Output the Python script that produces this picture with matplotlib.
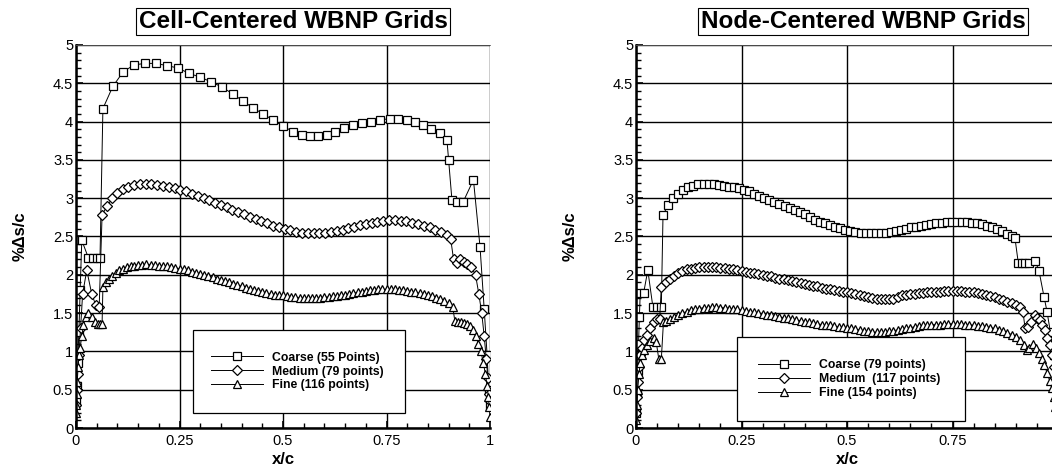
'''
Two-panel %Ds/c distribution for cell- and node-centered WBNP grids.
Output: out.png
'''

import matplotlib
matplotlib.use('Agg')
import matplotlib.pyplot as plt
from matplotlib.lines import Line2D
from matplotlib.patches import Rectangle
from matplotlib.ticker import MultipleLocator, FixedLocator, FixedFormatter

plt.rcParams['font.family'] = ['Liberation Sans', 'DejaVu Sans']

#Cell-centered grids (left panel)
cc_coarse_x = [0.0, 0.002, 0.004, 0.007, 0.01, 0.014, 0.03, 0.04, 0.05, 0.058,
               0.065, 0.089, 0.114, 0.14, 0.167, 0.193, 0.22, 0.246, 0.273, 0.3,
               0.326, 0.353, 0.379, 0.403, 0.427, 0.452, 0.476, 0.5, 0.524, 0.546,
               0.565, 0.585, 0.606, 0.626, 0.648, 0.67, 0.69, 0.712, 0.734, 0.758,
               0.778, 0.8, 0.818, 0.838, 0.857, 0.879, 0.896, 0.9, 0.908, 0.92,
               0.935, 0.96, 0.976, 0.986, 0.993, 0.997, 1.0]
cc_coarse_y = [0.35, 0.55, 0.85, 1.25, 1.8, 2.45, 2.22, 2.22, 2.22, 2.22,
               4.17, 4.46, 4.65, 4.74, 4.76, 4.76, 4.73, 4.70, 4.63, 4.58,
               4.52, 4.45, 4.36, 4.27, 4.18, 4.10, 4.02, 3.94, 3.87, 3.83,
               3.81, 3.81, 3.83, 3.87, 3.91, 3.95, 3.98, 4.00, 4.02, 4.04,
               4.04, 4.02, 3.99, 3.95, 3.90, 3.85, 3.76, 3.5, 2.98, 2.95,
               2.95, 3.24, 2.36, 1.55, 0.95, 0.5, 0.3]

cc_medium_x = [0.0, 0.002, 0.004, 0.007, 0.011, 0.016, 0.026, 0.038, 0.048, 0.056,
               0.063, 0.075, 0.088, 0.1, 0.113, 0.126, 0.14, 0.154, 0.168, 0.182,
               0.196, 0.21, 0.224, 0.238, 0.252, 0.266, 0.28, 0.294, 0.308, 0.322,
               0.336, 0.35, 0.364, 0.378, 0.392, 0.406, 0.42, 0.434, 0.448, 0.462,
               0.476, 0.49, 0.504, 0.518, 0.532, 0.546, 0.56, 0.574, 0.588, 0.602,
               0.616, 0.63, 0.644, 0.658, 0.672, 0.686, 0.7, 0.714, 0.728, 0.742,
               0.756, 0.77, 0.784, 0.798, 0.812, 0.826, 0.84, 0.854, 0.868, 0.882,
               0.895, 0.905, 0.912, 0.92, 0.928, 0.936, 0.945, 0.955, 0.965, 0.973,
               0.98, 0.986, 0.991, 0.995, 0.998, 1.0]
cc_medium_y = [0.3, 0.5, 0.7, 0.95, 1.3, 1.75, 2.06, 1.75, 1.6, 1.58,
               2.78, 2.90, 3.00, 3.07, 3.12, 3.15, 3.17, 3.18, 3.19, 3.18,
               3.17, 3.16, 3.15, 3.13, 3.11, 3.09, 3.06, 3.03, 3.00, 2.97,
               2.94, 2.91, 2.88, 2.85, 2.82, 2.79, 2.76, 2.73, 2.70, 2.67,
               2.64, 2.62, 2.60, 2.58, 2.56, 2.55, 2.54, 2.54, 2.54, 2.55,
               2.56, 2.57, 2.59, 2.61, 2.63, 2.65, 2.66, 2.68, 2.69, 2.70,
               2.71, 2.71, 2.70, 2.70, 2.68, 2.66, 2.64, 2.62, 2.59, 2.56,
               2.52, 2.47, 2.20, 2.15, 2.20, 2.17, 2.14, 2.10, 2.00, 1.75,
               1.50, 1.20, 0.90, 0.65, 0.45, 0.35]

cc_fine_x = [0.0, 0.001, 0.002, 0.003, 0.005, 0.007, 0.01, 0.014, 0.018, 0.024,
             0.03, 0.038, 0.046, 0.052, 0.058, 0.063,
             0.065, 0.072, 0.08, 0.088, 0.096, 0.105, 0.114, 0.123, 0.132, 0.141,
             0.15, 0.16, 0.17, 0.18, 0.19, 0.2, 0.21, 0.22, 0.23, 0.24,
             0.25, 0.26, 0.27, 0.28, 0.29, 0.3, 0.31, 0.32, 0.33, 0.34,
             0.35, 0.36, 0.37, 0.38, 0.39, 0.4, 0.41, 0.42, 0.43, 0.44,
             0.45, 0.46, 0.47, 0.48, 0.49, 0.5, 0.51, 0.52, 0.53, 0.54,
             0.55, 0.56, 0.57, 0.58, 0.59, 0.6, 0.61, 0.62, 0.63, 0.64,
             0.65, 0.66, 0.67, 0.68, 0.69, 0.7, 0.71, 0.72, 0.73, 0.74,
             0.75, 0.76, 0.77, 0.78, 0.79, 0.8, 0.81, 0.82, 0.83, 0.84,
             0.85, 0.86, 0.87, 0.88, 0.89, 0.9, 0.91,
             0.915, 0.922, 0.93, 0.937, 0.945, 0.952, 0.958, 0.965, 0.972, 0.978,
             0.984, 0.989, 0.993, 0.996, 0.998, 1.0]
cc_fine_y = [0.2, 0.3, 0.45, 0.6, 0.8, 0.95, 1.05, 1.2, 1.35, 1.45,
             1.5, 1.45, 1.38, 1.36, 1.36, 1.36,
             1.84, 1.90, 1.95, 1.99, 2.03, 2.06, 2.08, 2.10, 2.11, 2.12,
             2.13, 2.13, 2.14, 2.13, 2.13, 2.12, 2.12, 2.11, 2.10, 2.09,
             2.08, 2.07, 2.06, 2.04, 2.03, 2.01, 2.00, 1.98, 1.97, 1.95,
             1.93, 1.92, 1.90, 1.88, 1.87, 1.85, 1.83, 1.82, 1.80, 1.79,
             1.78, 1.76, 1.75, 1.74, 1.73, 1.73, 1.72, 1.71, 1.71, 1.70,
             1.70, 1.70, 1.70, 1.70, 1.70, 1.71, 1.71, 1.72, 1.72, 1.73,
             1.74, 1.75, 1.76, 1.77, 1.78, 1.79, 1.80, 1.80, 1.81, 1.81,
             1.81, 1.81, 1.81, 1.80, 1.80, 1.79, 1.78, 1.77, 1.76, 1.75,
             1.73, 1.72, 1.70, 1.68, 1.66, 1.63, 1.58,
             1.40, 1.38, 1.38, 1.37, 1.36, 1.33, 1.28, 1.20, 1.10, 1.00,
             0.85, 0.70, 0.55, 0.40, 0.28, 0.15]

#Node-centered grids (right panel)
nc_coarse_x = [0.0, 0.002, 0.004, 0.006, 0.008, 0.01, 0.018, 0.028, 0.04, 0.05, 0.06,
               0.064, 0.076, 0.088, 0.1, 0.112, 0.124, 0.136, 0.148, 0.16, 0.172,
               0.184, 0.196, 0.208, 0.22, 0.232, 0.244, 0.256, 0.268, 0.28, 0.292,
               0.304, 0.316, 0.328, 0.34, 0.352, 0.364, 0.376, 0.388, 0.4, 0.412,
               0.424, 0.436, 0.448, 0.46, 0.472, 0.484, 0.496, 0.508, 0.52, 0.532,
               0.544, 0.556, 0.568, 0.58, 0.592, 0.604, 0.616, 0.628, 0.64, 0.652,
               0.664, 0.676, 0.688, 0.7, 0.712, 0.724, 0.736, 0.748, 0.76, 0.772,
               0.784, 0.796, 0.808, 0.82, 0.832, 0.844, 0.856, 0.868, 0.88, 0.89,
               0.898, 0.906, 0.914, 0.922, 0.932, 0.946, 0.955, 0.967, 0.974, 0.982,
               0.99, 0.996, 1.0]
nc_coarse_y = [0.2, 0.45, 0.75, 1.1, 1.45, 1.76, 1.76, 2.06, 1.58, 1.58, 1.58,
               2.78, 2.91, 3.00, 3.06, 3.11, 3.14, 3.16, 3.18, 3.18, 3.18,
               3.18, 3.17, 3.16, 3.15, 3.14, 3.13, 3.11, 3.09, 3.06, 3.03,
               3.00, 2.98, 2.95, 2.92, 2.90, 2.87, 2.84, 2.82, 2.79, 2.76,
               2.72, 2.69, 2.67, 2.65, 2.63, 2.61, 2.59, 2.57, 2.56, 2.55,
               2.54, 2.54, 2.54, 2.54, 2.55, 2.56, 2.57, 2.59, 2.60, 2.62,
               2.63, 2.64, 2.65, 2.66, 2.67, 2.68, 2.69, 2.69, 2.69, 2.69,
               2.69, 2.68, 2.67, 2.66, 2.64, 2.62, 2.60, 2.57, 2.53, 2.50,
               2.48, 2.15, 2.15, 2.15, 2.15, 2.18, 2.05, 1.71, 1.52, 1.25,
               0.95, 0.6, 0.3]

nc_medium_x = [0.0, 0.002, 0.004, 0.007, 0.01, 0.015, 0.02, 0.027, 0.034, 0.042,
               0.05, 0.056, 0.06,
               0.07, 0.08, 0.09, 0.1, 0.11, 0.12, 0.13, 0.14, 0.15, 0.16,
               0.17, 0.18, 0.19, 0.2, 0.21, 0.22, 0.23, 0.24, 0.25, 0.26,
               0.27, 0.28, 0.29, 0.3, 0.31, 0.32, 0.33, 0.34, 0.35, 0.36,
               0.37, 0.38, 0.39, 0.4, 0.41, 0.42, 0.43, 0.44, 0.45, 0.46,
               0.47, 0.48, 0.49, 0.5, 0.51, 0.52, 0.53, 0.54, 0.55, 0.56,
               0.57, 0.58, 0.59, 0.6, 0.61, 0.62, 0.63, 0.64, 0.65, 0.66,
               0.67, 0.68, 0.69, 0.7, 0.71, 0.72, 0.73, 0.74, 0.75, 0.76,
               0.77, 0.78, 0.79, 0.8, 0.81, 0.82, 0.83, 0.84, 0.85, 0.86,
               0.87, 0.88, 0.89, 0.9, 0.91, 0.917,
               0.922, 0.93, 0.937, 0.945, 0.951, 0.957, 0.963, 0.969, 0.975, 0.98,
               0.985, 0.99, 0.994, 0.997, 1.0]
nc_medium_y = [0.2, 0.4, 0.6, 0.8, 0.95, 1.05, 1.15, 1.22, 1.3, 1.38,
               1.42, 1.42, 1.84,
               1.90, 1.95, 1.99, 2.02, 2.05, 2.07, 2.08, 2.09, 2.10, 2.10,
               2.10, 2.10, 2.10, 2.09, 2.09, 2.08, 2.07, 2.06, 2.05, 2.04,
               2.03, 2.02, 2.01, 2.00, 1.99, 1.98, 1.96, 1.95, 1.94, 1.93,
               1.92, 1.90, 1.89, 1.88, 1.87, 1.86, 1.85, 1.83, 1.82, 1.81,
               1.80, 1.79, 1.78, 1.77, 1.76, 1.75, 1.73, 1.72, 1.71, 1.70,
               1.69, 1.68, 1.68, 1.68, 1.69, 1.71, 1.73, 1.74, 1.75, 1.75,
               1.76, 1.76, 1.77, 1.77, 1.78, 1.78, 1.79, 1.79, 1.79, 1.79,
               1.79, 1.78, 1.78, 1.77, 1.76, 1.75, 1.74, 1.72, 1.71, 1.69,
               1.67, 1.65, 1.63, 1.61, 1.58, 1.52,
               1.30, 1.32, 1.38, 1.47, 1.44, 1.41, 1.35, 1.28, 1.18, 1.08,
               0.95, 0.80, 0.60, 0.40, 0.20]

nc_fine_x = [0.0, 0.002, 0.004, 0.007, 0.01, 0.015, 0.02, 0.027, 0.034, 0.042,
             0.048, 0.054, 0.06, 0.065,
             0.07, 0.08, 0.09, 0.1, 0.11, 0.12, 0.13, 0.14, 0.15, 0.16,
             0.17, 0.18, 0.19, 0.2, 0.21, 0.22, 0.23, 0.24, 0.25, 0.26,
             0.27, 0.28, 0.29, 0.3, 0.31, 0.32, 0.33, 0.34, 0.35, 0.36,
             0.37, 0.38, 0.39, 0.4, 0.41, 0.42, 0.43, 0.44, 0.45, 0.46,
             0.47, 0.48, 0.49, 0.5, 0.51, 0.52, 0.53, 0.54, 0.55, 0.56,
             0.57, 0.58, 0.59, 0.6, 0.61, 0.62, 0.63, 0.64, 0.65, 0.66,
             0.67, 0.68, 0.69, 0.7, 0.71, 0.72, 0.73, 0.74, 0.75, 0.76,
             0.77, 0.78, 0.79, 0.8, 0.81, 0.82, 0.83, 0.84, 0.85, 0.86,
             0.87, 0.88, 0.89, 0.9, 0.91, 0.92,
             0.926, 0.932, 0.94, 0.948, 0.955, 0.962, 0.968, 0.974, 0.98, 0.985,
             0.99, 0.994, 0.997, 1.0]
nc_fine_y = [0.1, 0.3, 0.5, 0.7, 0.85, 0.95, 1.02, 1.08, 1.14, 1.18,
             1.12, 0.90, 0.90, 1.38,
             1.40, 1.42, 1.45, 1.48, 1.50, 1.52, 1.54, 1.55, 1.56, 1.57,
             1.57, 1.58, 1.58, 1.57, 1.57, 1.56, 1.56, 1.55, 1.54, 1.53,
             1.52, 1.51, 1.50, 1.49, 1.48, 1.47, 1.46, 1.45, 1.44, 1.43,
             1.42, 1.41, 1.40, 1.39, 1.38, 1.37, 1.36, 1.35, 1.34, 1.34,
             1.33, 1.32, 1.32, 1.31, 1.30, 1.29, 1.28, 1.27, 1.26, 1.25,
             1.25, 1.25, 1.25, 1.26, 1.27, 1.28, 1.29, 1.30, 1.31, 1.32,
             1.33, 1.34, 1.34, 1.35, 1.35, 1.35, 1.36, 1.36, 1.36, 1.36,
             1.36, 1.35, 1.35, 1.34, 1.33, 1.33, 1.32, 1.31, 1.30, 1.28,
             1.26, 1.24, 1.22, 1.19, 1.15, 1.08,
             1.02, 1.05, 1.10, 1.05, 0.98, 0.90, 0.82, 0.72, 0.62, 0.52,
             0.40, 0.28, 0.18, 0.08]

cc_labels = ['Coarse (55 Points)', 'Medium (79 points)', 'Fine (116 points)']
nc_labels = ['Coarse (79 points)', 'Medium  (117 points)', 'Fine (154 points)']
x_ticks = [0, 0.25, 0.5, 0.75, 1]
y_ticks = [0, 0.5, 1, 1.5, 2, 2.5, 3, 3.5, 4, 4.5, 5]
y_ticklabels = ['0', '0.5', '1', '1.5', '2', '2.5', '3', '3.5', '4', '4.5', '5']

W, H = 1052, 471
fig = plt.figure(figsize=(W / 100, H / 100), dpi=100)

ax1 = fig.add_axes([76 / W, 43 / H, 414 / W, 383 / H])
ax2 = fig.add_axes([636 / W, 43 / H, 422 / W, 383 / H])

styles = [dict(marker='s', ms=6.0), dict(marker='D', ms=5.0), dict(marker='^', ms=5.6)]


def draw_panel(ax, series, labels, legbox, xlabels):
    for (x, y), st in zip(series, styles):
        ax.plot(x, y, color='black', lw=0.7, mfc='white', mec='black', mew=0.9, **st)
    ax.set_xlim(0, 1)
    ax.set_ylim(0, 5)
    ax.xaxis.set_major_locator(FixedLocator(x_ticks))
    ax.xaxis.set_major_formatter(FixedFormatter(xlabels))
    ax.xaxis.set_minor_locator(MultipleLocator(0.05))
    ax.yaxis.set_major_locator(FixedLocator(y_ticks))
    ax.yaxis.set_major_formatter(FixedFormatter(y_ticklabels))
    ax.yaxis.set_minor_locator(MultipleLocator(0.1))
    ax.tick_params(which='both', direction='in', labelsize=10.5, color='black')
    ax.tick_params(which='major', length=5, width=1.2)
    ax.tick_params(which='minor', length=3.5, width=1.0)
    ax.tick_params(axis='y', pad=2)
    ax.tick_params(axis='x', pad=4)
    ax.grid(which='major', color='black', lw=1.0)
    for s in ['left', 'bottom']:
        ax.spines[s].set_linewidth(1.8)
    ax.spines['top'].set_linewidth(0.6)
    ax.spines['top'].set_color('0.35')
    ax.spines['right'].set_visible(False)
    ax.set_axisbelow(True)

    # legend box
    x0, y0, x1, y1 = legbox
    ax.add_patch(Rectangle((x0, y0), x1 - x0, y1 - y0, transform=ax.transAxes,
                           fc='white', ec='black', lw=0.9, zorder=4))
    handles = [Line2D([], [], color='black', lw=0.7, mfc='white', mec='black', mew=0.9, **st)
               for st in styles]
    ax.legend(handles, labels, loc='center', bbox_to_anchor=((x0 + x1) / 2 - 0.005, (y0 + y1) / 2),
              frameon=False, handlelength=4.3, handletextpad=0.7, labelspacing=0.15,
              prop=dict(weight='bold', size=8.8)).set_zorder(5)


draw_panel(ax1, [(cc_coarse_x, cc_coarse_y), (cc_medium_x, cc_medium_y), (cc_fine_x, cc_fine_y)],
           cc_labels, (0.283, 0.039, 0.795, 0.256), ['0', '0.25', '0.5', '0.75', '1'])
# the right panel's x=1 label falls outside the picture in the reference
draw_panel(ax2, [(nc_coarse_x, nc_coarse_y), (nc_medium_x, nc_medium_y), (nc_fine_x, nc_fine_y)],
           nc_labels, (0.239, 0.018, 0.780, 0.238), ['0', '0.25', '0.5', '0.75', ''])

box = dict(boxstyle='square,pad=0.1', fc='white', ec='black', lw=0.8)
fig.text(293 / W, 1 - 21.5 / H, 'Cell-Centered WBNP Grids', ha='center', va='center',
         fontsize=17.5, weight='bold', bbox=box)
fig.text(863 / W, 1 - 21.5 / H, 'Node-Centered WBNP Grids', ha='center', va='center',
         fontsize=17.5, weight='bold', bbox=box)

for xc in [283, 847]:
    fig.text(xc / W, 1 - 460 / H, 'x/c', ha='center', va='center', fontsize=12, weight='bold')
for xc in [20, 570]:
    fig.text(xc / W, 1 - 236 / H, '%\u0394s/c', ha='center', va='center', rotation=90,
             fontsize=12, weight='bold')

plt.savefig('out.png', dpi=100)
